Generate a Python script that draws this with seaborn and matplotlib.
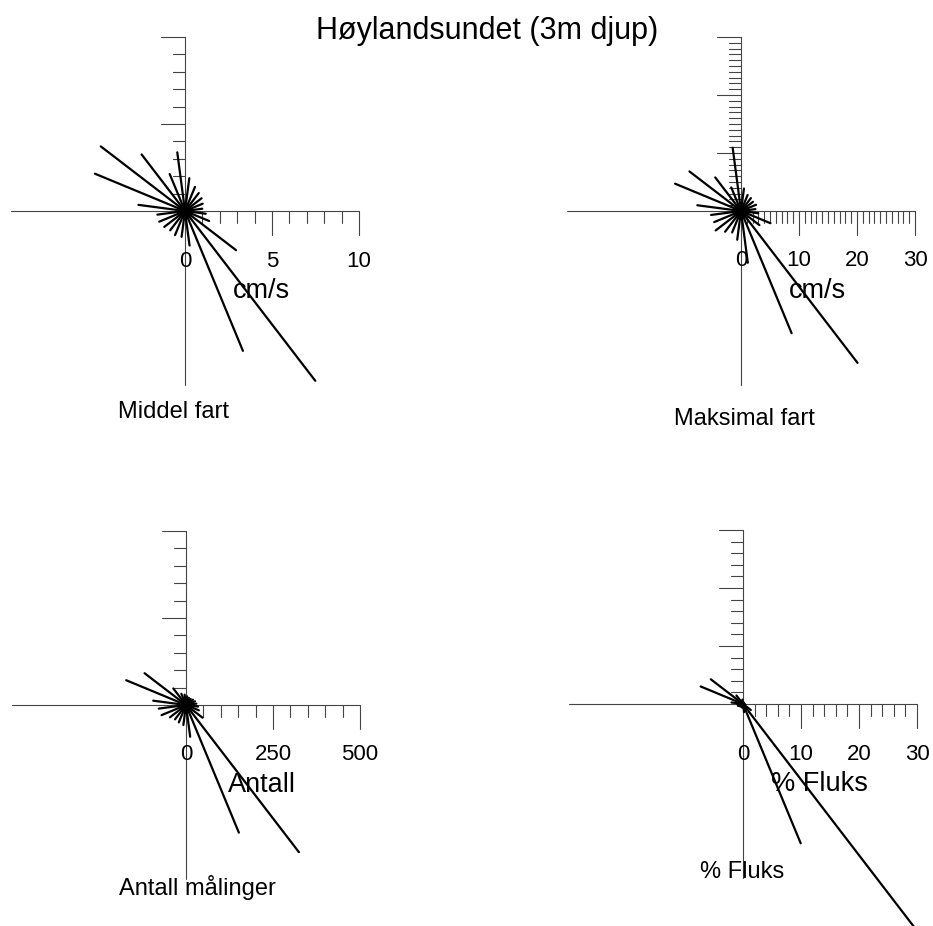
import numpy as np
import pandas as pd
import matplotlib
matplotlib.use('Agg')
from matplotlib import pyplot as plt
import seaborn as sns

sns.set_theme(style='white')
plt.rcParams['font.family'] = ['Liberation Sans', 'DejaVu Sans']
plt.rcParams['text.color'] = 'black'

# 24 direction sectors (degrees, clockwise from north)
directions = [7.5, 22.5, 37.5, 52.5, 67.5, 82.5, 97.5, 112.5, 127.5, 142.5, 157.5, 172.5,
              187.5, 202.5, 217.5, 232.5, 247.5, 262.5, 277.5, 292.5, 307.5, 322.5, 337.5, 352.5]

# Middel fart (cm/s)
mean_speed = [1.9, 1.5, 1.3, 1.2, 1.1, 1.0, 1.2, 1.5, 3.7, 12.3, 8.7, 2.0,
              1.5, 1.5, 1.4, 1.5, 1.6, 1.6, 2.7, 5.6, 6.1, 4.1, 2.3, 3.4]
# Maksimal fart (cm/s)
max_speed = [3.9, 3.0, 2.8, 2.6, 2.8, 2.5, 3.0, 5.5, 4.0, 33.0, 22.8, 9.0,
             5.0, 4.0, 4.5, 5.5, 5.0, 5.2, 7.6, 12.3, 11.2, 7.3, 4.4, 11.0]
# Antall målinger
counts = [25, 22, 22, 25, 28, 30, 35, 40, 60, 533, 397, 92,
          58, 54, 52, 58, 76, 79, 95, 186, 150, 60, 35, 30]
# % Fluks
flux = [0.36, 0.25, 0.2, 0.2, 0.23, 0.23, 0.3, 0.45, 1.7, 49.0, 26.0, 1.4,
        0.65, 0.6, 0.55, 0.65, 0.9, 0.95, 2.0, 7.9, 7.0, 1.85, 0.6, 0.77]

# panel setup: name, values, axis max, minor step, major step, tick labels, unit label
panels = [
    ('Middel fart', mean_speed, 10, 1, 5, ['0', '5', '10'], 'cm/s'),
    ('Maksimal fart', max_speed, 30, 1, 10, ['0', '10', '20', '30'], 'cm/s'),
    ('Antall målinger', counts, 500, 50, 250, ['0', '250', '500'], 'Antall'),
    ('% Fluks', flux, 30, 2, 10, ['0', '10', '20', '30'], '% Fluks'),
]
# pixel positions of the origins and the panel captions
origins = [(185, 211), (741, 211), (186, 705), (743, 704)]
captions = [(174, 412), (744, 419), (197, 888), (742, 872)]

W, H = 933, 926
fig = plt.figure(figsize=(W / 100, H / 100), dpi=100)

L = 174.0   # pixel length of the axis arms
half = 270  # half size of each axes box in px

for (name, vals, R, mstep, Mstep, tlabels, ulabel), (ox, oy), (cx, cy), blob in zip(
        panels, origins, captions, [8, 8, 7, 0]):
    s = L / R  # px per data unit
    ax = fig.add_axes([(ox - half) / W, 1 - (oy + half) / H, 2 * half / W, 2 * half / H])
    ax.set_facecolor('none')
    ax.set_xlim(-half / s, half / s)
    ax.set_ylim(-half / s, half / s)
    ax.axis('off')

    # axis cross
    ax.plot([-R, R], [0, 0], color='#444444', lw=0.8)
    ax.plot([0, 0], [-R, R], color='#444444', lw=0.8)
    nt = int(round(R / mstep))
    for k in range(1, nt + 1):
        v = k * mstep
        tl = 24 if abs(v / Mstep - round(v / Mstep)) < 1e-6 else 12
        ax.plot([v, v], [0, -tl / s], color='#444444', lw=0.8)
        ax.plot([0, -tl / s], [v, v], color='#444444', lw=0.8)

    # tick labels
    for t in tlabels:
        ax.text(float(t), -50 / s, t, ha='center', va='center', fontsize=16)
    ax.text(76 / s, -80 / s, ulabel, ha='center', va='center', fontsize=19.5)

    # rays
    th = np.radians(directions)
    v = np.array(vals, dtype=float)
    d = pd.DataFrame({
        'ray': np.repeat(np.arange(len(directions)), 2),
        'x': np.column_stack([np.zeros_like(v), v * np.sin(th)]).ravel(),
        'y': np.column_stack([np.zeros_like(v), v * np.cos(th)]).ravel(),
    })
    sns.lineplot(data=d, x='x', y='y', units='ray', estimator=None, sort=False,
                 color='black', lw=1.6, ax=ax, legend=False)
    if blob:
        ax.plot(0, 0, 'o', color='black', ms=blob)
    for ln in ax.lines:
        ln.set_clip_on(False)

    fig.text(cx / W, 1 - cy / H, name, ha='center', va='center', fontsize=17)

fig.text(487 / W, 1 - 31 / H, 'Høylandsundet (3m djup)', ha='center', va='center', fontsize=22)

fig.savefig('out.png', dpi=100)
